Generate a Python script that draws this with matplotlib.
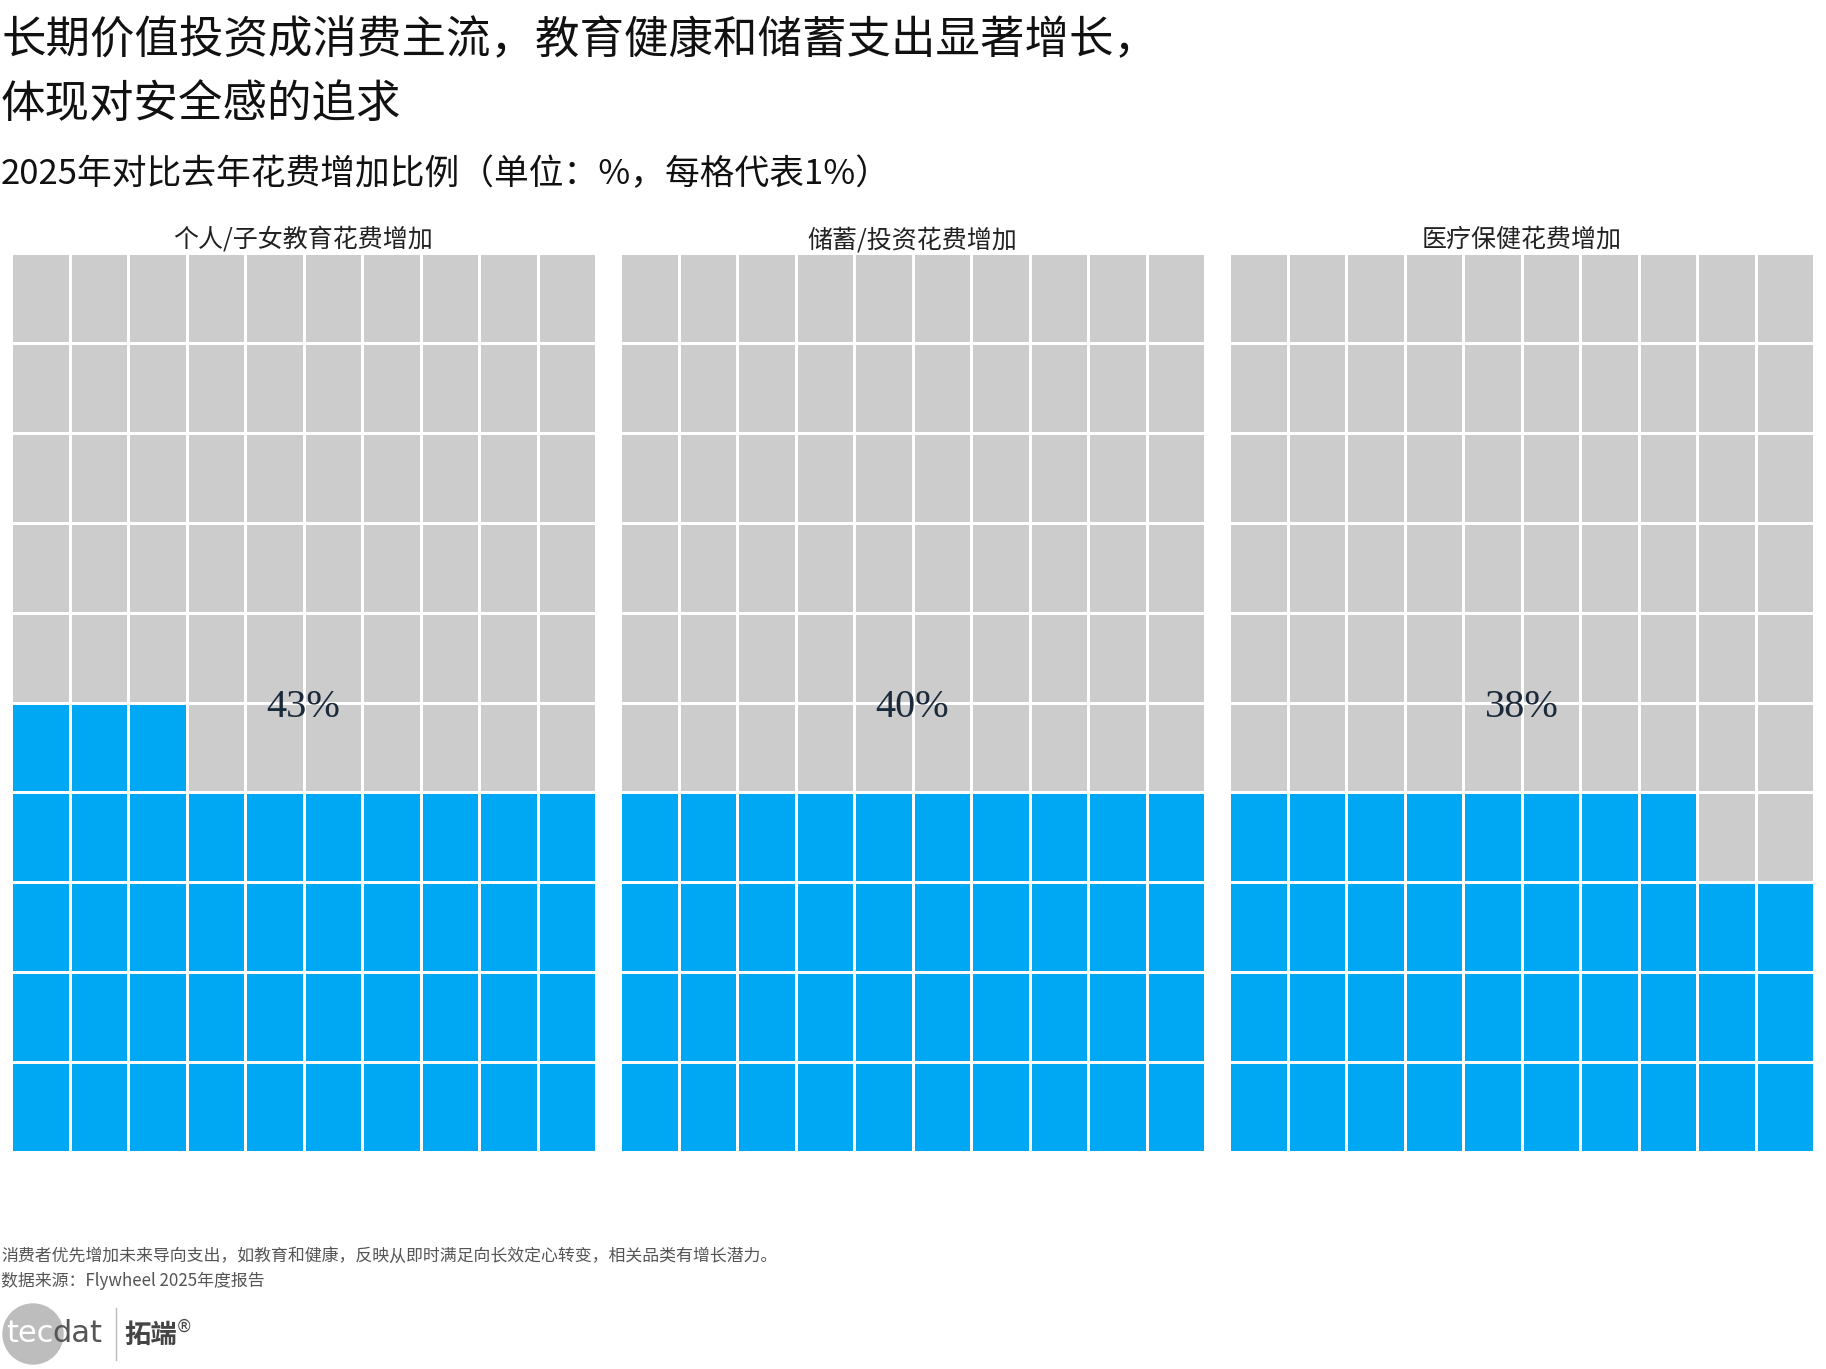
import numpy as np
import matplotlib
matplotlib.use("Agg")
import matplotlib.pyplot as plt
from matplotlib.colors import ListedColormap
from matplotlib.patches import Circle

plt.rcParams['font.family'] = ['Noto Sans CJK SC', 'DejaVu Sans']

# ---- data ----
title_lines = ["长期价值投资成消费主流，教育健康和储蓄支出显著增长，", "体现对安全感的追求"]
subtitle = "2025年对比去年花费增加比例（单位：%，每格代表1%）"
categories = ["个人/子女教育花费增加", "储蓄/投资花费增加", "医疗保健花费增加"]
values = [43, 40, 38]
footnotes = ["消费者优先增加未来导向支出，如教育和健康，反映从即时满足向长效定心转变，相关品类有增长潜力。",
             "数据来源：Flywheel 2025年度报告"]
n_rows, n_cols = 10, 10

BLUE = "#00A8F3"
GRAY = "#CCCCCC"

W, H = 1826, 1369
fig = plt.figure(figsize=(W / 100, H / 100), dpi=100)

# overlay axes in pixel coords
ov = fig.add_axes([0, 0, 1, 1])
ov.set_xlim(0, W)
ov.set_ylim(H, 0)
ov.axis('off')

ov.text(1, 40, title_lines[0], fontsize=32, va='center', ha='left', color='#111111')
ov.text(1, 104, title_lines[1], fontsize=32, va='center', ha='left', color='#111111')
ov.text(1, 175, subtitle, fontsize=25, va='center', ha='left', color='#111111')

panel_lefts = [11, 620, 1229]
panel_w = 585
top, bottom = 253, 1152
cmap = ListedColormap([GRAY, BLUE])

for left, cat, val in zip(panel_lefts, categories, values):
    ax = fig.add_axes([left / W, 1 - bottom / H, panel_w / W, (bottom - top) / H])
    k = np.arange(n_rows * n_cols).reshape(n_rows, n_cols)
    Z = (k < val).astype(float)
    ax.pcolormesh(np.arange(n_cols + 1), np.arange(n_rows + 1), Z, cmap=cmap,
                  vmin=0, vmax=1, edgecolors='white', linewidth=2)
    ax.set_xlim(0, n_cols)
    ax.set_ylim(0, n_rows)
    ax.axis('off')
    ax.text(n_cols / 2, n_rows / 2 - 0.06, f"{val}%", ha='center', va='center',
            fontsize=29, color='#1b2a3a', family=['Liberation Serif', 'DejaVu Serif'])
    ov.text(left + panel_w / 2, 240, cat, ha='center', va='center', fontsize=18, color='#222222')

ov.text(1, 1256, footnotes[0], fontsize=12.2, va='center', ha='left', color='#555555')
ov.text(1, 1281, footnotes[1], fontsize=12.2, va='center', ha='left', color='#555555')

# logo
ov.add_patch(Circle((33, 1334), 30, color='#bdbdbd', zorder=1))
ov.text(6, 1333, "tec", fontsize=22, va='center', ha='left', color='white', zorder=2,
        family=['DejaVu Sans'])
ov.text(52, 1333, "dat", fontsize=22, va='center', ha='left', color='#555555', zorder=2,
        family=['DejaVu Sans'])
ov.plot([116, 116], [1308, 1360], color='#bbbbbb', lw=1)
ov.text(124, 1335, "拓端", fontsize=19, va='center', ha='left', color='#444444', fontweight='bold')
ov.text(176, 1327, "®", fontsize=12, va='center', ha='left', color='#444444', family=['DejaVu Sans'])

fig.savefig("out.png", dpi=100)
